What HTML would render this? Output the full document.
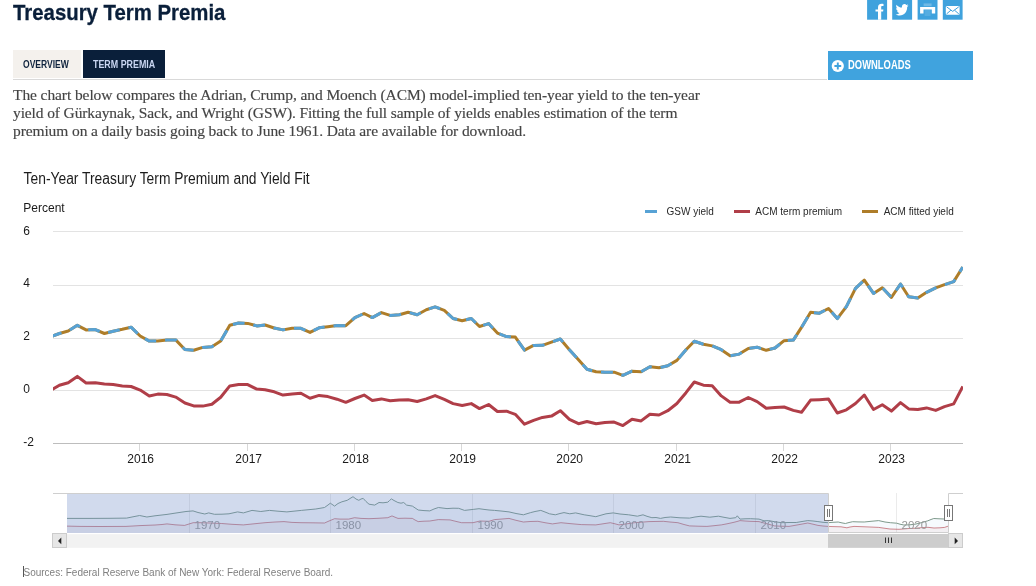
<!DOCTYPE html>
<html lang="en">
<head>
<meta charset="utf-8">
<title>Treasury Term Premia</title>
<style>
html,body{margin:0;padding:0;background:#fff;}
body{width:1036px;height:586px;position:relative;overflow:hidden;font-family:"Liberation Sans",sans-serif;color:#333;}
.abs{position:absolute;white-space:nowrap;}
.cond{transform-origin:0 50%;}
h1{position:absolute;left:13px;top:-.8px;-webkit-text-stroke:.3px #0a1f3a;margin:0;font:bold 22.5px/28px "Liberation Sans",sans-serif;color:#0a1f3a;white-space:nowrap;transform:scaleX(.905);transform-origin:0 50%;}
.tab{position:absolute;top:50px;height:28px;}
.tab span{position:absolute;top:0;line-height:28px;font:bold 11px/28px "Liberation Sans",sans-serif;white-space:nowrap;transform:scaleX(.8);transform-origin:0 50%;}
#t1{left:13px;width:68px;background:#f4f1ed;}
#t1 span{left:9.6px;color:#10243e;transform:scaleX(.775);}
#t2{left:83px;width:82px;background:#0a1f3a;}
#t2 span{left:10.2px;color:#c9d6f2;transform:scaleX(.808);}
#rule{position:absolute;left:13px;top:79px;width:814px;height:1px;background:#d9d9d9;}
#dl{position:absolute;left:828px;top:51px;width:145px;height:29px;background:#40a3de;}
#dl span{position:absolute;left:19.5px;top:.3px;font:bold 12px/29px "Liberation Sans",sans-serif;color:#fff;white-space:nowrap;transform:scaleX(.785);transform-origin:0 50%;}
.soc{position:absolute;top:-2px;width:20px;height:22px;background:#3fa2dd;}
p.intro{position:absolute;left:13px;top:86px;margin:0;font:15.5px/18px "Liberation Serif",serif;color:#444;white-space:nowrap;-webkit-text-stroke:.15px #444;}
p.intro span{display:block;height:18px;}
#l1{letter-spacing:-.088px}#l2{letter-spacing:-.122px}#l3{letter-spacing:-.106px}
#src{position:absolute;left:23.5px;top:566.7px;font:10px/12px "Liberation Sans",sans-serif;color:#808080;white-space:nowrap;}
#caret{position:absolute;left:23px;top:565.5px;width:1px;height:11.5px;background:#555;}
svg{position:absolute;left:0;top:0;}
svg text{font-family:"Liberation Sans",sans-serif;}
</style>
</head>
<body>
<h1>Treasury Term Premia</h1>
<svg id="social" width="1036" height="24" viewBox="0 0 1036 24">
<g fill="#3fa2dd">
<rect x="867.1" y="-1" width="20" height="20.7"/>
<rect x="892.2" y="-1" width="19.9" height="20.7"/>
<rect x="917.6" y="-1" width="19.9" height="20.7"/>
<rect x="942.8" y="-1" width="19.8" height="20.7"/>
</g>
<!-- facebook -->
<path d="M878 19.7 V11.6 H875.5 V9.4 H878 V7.4 C878 5 879.4 3.8 881.6 3.8 C882.4 3.8 883.1 3.9 883.5 3.95 V6.1 H882.3 C881.4 6.1 881.2 6.6 881.2 7.3 V9.4 H883.4 L883.1 11.6 H881.2 V19.7 Z" fill="#fff"/>
<!-- twitter -->
<path transform="translate(902 9.9) scale(1.04 1.12) translate(-902 -10.3)" d="M908.2 6.3 c-0.45 0.2 -0.95 0.35 -1.45 0.4 c0.5 -0.3 0.9 -0.8 1.1 -1.4 c-0.5 0.3 -1.05 0.5 -1.6 0.6 c-0.45 -0.5 -1.1 -0.8 -1.85 -0.8 c-1.4 0 -2.5 1.15 -2.5 2.55 c0 0.2 0 0.4 0.05 0.6 c-2.1 -0.1 -3.95 -1.1 -5.2 -2.65 c-0.2 0.4 -0.35 0.8 -0.35 1.3 c0 0.9 0.45 1.65 1.15 2.1 c-0.4 0 -0.8 -0.1 -1.15 -0.3 v0.05 c0 1.25 0.85 2.25 2.05 2.5 c-0.2 0.05 -0.45 0.1 -0.65 0.1 c-0.15 0 -0.3 0 -0.5 -0.05 c0.3 1 1.25 1.75 2.35 1.75 c-0.85 0.7 -1.95 1.1 -3.15 1.1 c-0.2 0 -0.4 0 -0.6 -0.05 c1.1 0.7 2.45 1.15 3.85 1.15 c4.65 0 7.2 -3.85 7.2 -7.2 v-0.3 c0.5 -0.4 0.9 -0.85 1.25 -1.4 z" fill="#fff"/>
<!-- print -->
<path d="M920.1 6.9 H935.2 V13.6 H931.8 V9.4 H923.5 V13.6 H920.1 Z" fill="#fff"/>
<path d="M923.6 3.4 H931.6 V6.2 H923.6 Z" fill="#fff" fill-opacity=".25"/>
<path d="M924.6 11 H930.6 M924.6 13 H930.6 M924.6 15 H930.6" stroke="#fff" stroke-opacity=".3" stroke-width="0.8" fill="none"/>
<!-- email -->
<rect x="945.8" y="5.9" width="13.8" height="8.8" rx="1" fill="#fff"/>
<path d="M946.6 6.8 L952.7 11.4 L958.8 6.8 M946.6 13.9 L950.9 10.2 M958.8 13.9 L954.5 10.2" stroke="#3fa2dd" stroke-width="1" fill="none"/>
</svg>
<div class="tab" id="t1"><span>OVERVIEW</span></div>
<div class="tab" id="t2"><span>TERM PREMIA</span></div>
<div id="rule"></div>
<div id="dl"><svg width="145" height="28" viewBox="0 0 145 28"><circle cx="9.8" cy="15" r="6.1" fill="#fff"/><path d="M9.8 11.6 V18.4 M6.4 15 H13.2" stroke="#40a3de" stroke-width="1.9" fill="none"/></svg><span>DOWNLOADS</span></div>
<p class="intro"><span id="l1">The chart below compares the Adrian, Crump, and Moench (ACM) model-implied ten-year yield to the ten-year</span><span id="l2">yield of Gürkaynak, Sack, and Wright (GSW). Fitting the full sample of yields enables estimation of the term</span><span id="l3">premium on a daily basis going back to June 1961. Data are available for download.</span></p>
<svg width="1036" height="586" viewBox="0 0 1036 586">
<path d="M53 231.5 H963" stroke="#e3e3e3" stroke-width="1" fill="none"/>
<path d="M53 285.5 H963" stroke="#e3e3e3" stroke-width="1" fill="none"/>
<path d="M53 338.5 H963" stroke="#e3e3e3" stroke-width="1" fill="none"/>
<path d="M53 390.5 H963" stroke="#e3e3e3" stroke-width="1" fill="none"/>
<path d="M53 443.5 H963" stroke="#bdbdbd" stroke-width="1" fill="none"/>
<path d="M139.5 444 V451" stroke="#d8d8d8" stroke-width="1" fill="none"/>
<path d="M247.5 444 V451" stroke="#d8d8d8" stroke-width="1" fill="none"/>
<path d="M354.5 444 V451" stroke="#d8d8d8" stroke-width="1" fill="none"/>
<path d="M461.5 444 V451" stroke="#d8d8d8" stroke-width="1" fill="none"/>
<path d="M568.5 444 V451" stroke="#d8d8d8" stroke-width="1" fill="none"/>
<path d="M676.5 444 V451" stroke="#d8d8d8" stroke-width="1" fill="none"/>
<path d="M783.5 444 V451" stroke="#d8d8d8" stroke-width="1" fill="none"/>
<path d="M890.5 444 V451" stroke="#d8d8d8" stroke-width="1" fill="none"/>
<text x="23.3" y="234.7" font-size="12" fill="#1a1a1a">6</text>
<text x="23.3" y="287.4" font-size="12" fill="#1a1a1a">4</text>
<text x="23.3" y="340.1" font-size="12" fill="#1a1a1a">2</text>
<text x="23.3" y="392.8" font-size="12" fill="#1a1a1a">0</text>
<text x="23.3" y="445.5" font-size="12" fill="#1a1a1a">-2</text>
<text x="140.7" y="463" font-size="12" fill="#1a1a1a" text-anchor="middle">2016</text>
<text x="248.7" y="463" font-size="12" fill="#1a1a1a" text-anchor="middle">2017</text>
<text x="355.7" y="463" font-size="12" fill="#1a1a1a" text-anchor="middle">2018</text>
<text x="462.7" y="463" font-size="12" fill="#1a1a1a" text-anchor="middle">2019</text>
<text x="569.7" y="463" font-size="12" fill="#1a1a1a" text-anchor="middle">2020</text>
<text x="677.7" y="463" font-size="12" fill="#1a1a1a" text-anchor="middle">2021</text>
<text x="784.7" y="463" font-size="12" fill="#1a1a1a" text-anchor="middle">2022</text>
<text x="891.7" y="463" font-size="12" fill="#1a1a1a" text-anchor="middle">2023</text>
<text x="23.6" y="184.2" font-size="16" fill="#1c1c1c" textLength="286"lengthAdjust="spacingAndGlyphs">Ten-Year Treasury Term Premium and Yield Fit</text>
<text x="23.3" y="212" font-size="12" fill="#1a1a1a">Percent</text>
<path d="M645 211.5 H657" stroke="#57a2d5" stroke-width="3" fill="none"/>
<text x="666.5" y="215" font-size="10" fill="#2a2a2a">GSW yield</text>
<path d="M734 211.5 H750" stroke="#b03e48" stroke-width="3" fill="none"/>
<text x="755.3" y="215" font-size="10" fill="#2a2a2a">ACM term premium</text>
<path d="M862 211.5 H878" stroke="#ae7d29" stroke-width="3" fill="none"/>
<text x="883.7" y="215" font-size="10" fill="#2a2a2a">ACM fitted yield</text>
<clipPath id="pc"><rect x="53" y="220" width="910" height="235"/></clipPath>
<g fill="none" stroke-width="3" stroke-linejoin="round" stroke-linecap="butt" clip-path="url(#pc)">
<path d="M50.3 390.7 L59.4 385.3 L68.2 382.7 L77.3 376.4 L86.1 383.0 L95.3 382.7 L104.4 384.0 L113.2 384.6 L122.3 385.9 L131.1 386.5 L140.2 390.1 L149.3 396.0 L157.8 394.1 L166.9 394.5 L175.7 397.1 L184.9 403.0 L193.7 405.9 L202.8 406.1 L211.9 404.2 L220.7 397.3 L229.8 385.9 L238.6 384.6 L247.7 384.6 L256.8 389.1 L265.1 389.7 L274.2 391.8 L283.0 395.1 L292.1 394.1 L300.9 393.2 L310.0 398.3 L319.1 395.4 L327.9 396.6 L337.0 399.2 L345.8 402.3 L354.9 398.5 L364.1 395.1 L372.3 400.4 L381.4 398.9 L390.2 400.8 L399.3 400.0 L408.1 399.8 L417.2 401.5 L426.3 398.9 L435.1 395.6 L444.3 399.4 L453.1 403.6 L462.2 405.5 L471.3 403.6 L479.5 408.6 L488.6 404.5 L497.4 411.5 L506.5 411.2 L515.3 414.3 L524.5 424.2 L533.6 420.4 L542.4 417.4 L551.5 416.1 L560.3 410.7 L569.4 419.3 L578.5 423.7 L587.0 421.5 L596.1 423.7 L604.9 422.4 L614.1 422.1 L622.9 425.6 L632.0 419.3 L641.1 420.9 L649.9 414.2 L659.0 415.0 L667.8 410.7 L676.9 403.5 L686.0 392.7 L694.3 382.0 L703.4 385.2 L712.2 385.8 L721.3 395.9 L730.1 402.2 L739.2 402.2 L748.3 397.5 L757.1 401.6 L766.2 408.2 L775.0 407.4 L784.1 407.0 L793.3 410.4 L801.5 412.3 L810.6 400.1 L819.4 399.7 L828.5 399.1 L837.3 413.0 L846.4 409.8 L855.5 403.5 L864.3 395.0 L873.5 409.5 L882.3 404.8 L891.4 411.1 L900.5 402.6 L908.7 408.9 L917.8 409.5 L926.6 407.9 L935.7 410.4 L944.5 406.6 L953.7 403.9 L962.8 386.4" stroke="#b03e48"/>
<path d="M50.3 336.9 L59.4 333.5 L68.2 331.0 L77.3 325.3 L86.1 329.9 L95.3 329.6 L104.4 333.5 L113.2 331.2 L122.3 329.3 L131.1 327.2 L140.2 336.0 L149.3 341.1 L157.8 341.1 L166.9 339.9 L175.7 339.9 L184.9 349.5 L193.7 350.3 L202.8 347.4 L211.9 346.7 L220.7 341.1 L229.8 325.3 L238.6 323.0 L247.7 323.4 L256.8 325.9 L265.1 325.0 L274.2 328.0 L283.0 329.9 L292.1 328.2 L300.9 328.3 L310.0 332.4 L319.1 327.8 L327.9 326.7 L337.0 325.5 L345.8 325.7 L354.9 317.6 L364.1 313.5 L372.3 317.6 L381.4 312.6 L390.2 315.4 L399.3 314.7 L408.1 312.2 L417.2 314.7 L426.3 309.7 L435.1 306.9 L444.3 310.3 L453.1 318.5 L462.2 320.7 L471.3 318.5 L479.5 326.5 L488.6 323.6 L497.4 333.1 L506.5 336.6 L515.3 337.1 L524.5 350.1 L533.6 345.4 L542.4 345.3 L551.5 342.1 L560.3 339.0 L569.4 349.7 L578.5 359.8 L587.0 369.3 L596.1 371.8 L604.9 372.2 L614.1 372.2 L622.9 375.3 L632.0 371.2 L641.1 371.8 L649.9 366.7 L659.0 367.8 L667.8 365.7 L676.9 360.4 L686.0 349.7 L694.3 341.3 L703.4 344.2 L712.2 345.9 L721.3 349.7 L730.1 355.8 L739.2 354.1 L748.3 348.4 L757.1 347.2 L766.2 350.3 L775.0 348.0 L784.1 340.7 L793.3 340.1 L801.5 327.4 L810.6 312.3 L819.4 313.2 L828.5 308.5 L837.3 318.6 L846.4 306.6 L855.5 288.3 L864.3 280.1 L873.5 293.4 L882.3 287.7 L891.4 297.4 L900.5 284.0 L908.7 296.7 L917.8 298.0 L926.6 292.3 L935.7 287.9 L944.5 284.7 L953.7 281.6 L962.8 267.1" stroke="#ae7d29"/>
<path d="M50.3 336.9 L59.4 333.5 L68.2 331.0 L77.3 325.3 L86.1 329.9 L95.3 329.6 L104.4 333.5 L113.2 331.2 L122.3 329.3 L131.1 327.2 L140.2 336.0 L149.3 341.1 L157.8 341.1 L166.9 339.9 L175.7 339.9 L184.9 349.5 L193.7 350.3 L202.8 347.4 L211.9 346.7 L220.7 341.1 L229.8 325.3 L238.6 323.0 L247.7 323.4 L256.8 325.9 L265.1 325.0 L274.2 328.0 L283.0 329.9 L292.1 328.2 L300.9 328.3 L310.0 332.4 L319.1 327.8 L327.9 326.7 L337.0 325.5 L345.8 325.7 L354.9 317.6 L364.1 313.5 L372.3 317.6 L381.4 312.6 L390.2 315.4 L399.3 314.7 L408.1 312.2 L417.2 314.7 L426.3 309.7 L435.1 306.9 L444.3 310.3 L453.1 318.5 L462.2 320.7 L471.3 318.5 L479.5 326.5 L488.6 323.6 L497.4 333.1 L506.5 336.6 L515.3 337.1 L524.5 350.1 L533.6 345.4 L542.4 345.3 L551.5 342.1 L560.3 339.0 L569.4 349.7 L578.5 359.8 L587.0 369.3 L596.1 371.8 L604.9 372.2 L614.1 372.2 L622.9 375.3 L632.0 371.2 L641.1 371.8 L649.9 366.7 L659.0 367.8 L667.8 365.7 L676.9 360.4 L686.0 349.7 L694.3 341.3 L703.4 344.2 L712.2 345.9 L721.3 349.7 L730.1 355.8 L739.2 354.1 L748.3 348.4 L757.1 347.2 L766.2 350.3 L775.0 348.0 L784.1 340.7 L793.3 340.1 L801.5 327.4 L810.6 312.3 L819.4 313.2 L828.5 308.5 L837.3 318.6 L846.4 306.6 L855.5 288.3 L864.3 280.1 L873.5 293.4 L882.3 287.7 L891.4 297.4 L900.5 284.0 L908.7 296.7 L917.8 298.0 L926.6 292.3 L935.7 287.9 L944.5 284.7 L953.7 281.6 L962.8 267.1" stroke="#57a2d5" stroke-dasharray="11.9 8.93"/>
</g>
<path d="M189.5 493 V533" stroke="#ebebeb" stroke-width="1" fill="none"/>
<path d="M330.5 493 V533" stroke="#ebebeb" stroke-width="1" fill="none"/>
<path d="M472.5 493 V533" stroke="#ebebeb" stroke-width="1" fill="none"/>
<path d="M613.5 493 V533" stroke="#ebebeb" stroke-width="1" fill="none"/>
<path d="M755.5 493 V533" stroke="#ebebeb" stroke-width="1" fill="none"/>
<path d="M896.5 493 V533" stroke="#ebebeb" stroke-width="1" fill="none"/>
<path d="M67.0 518.4 L90.0 518.4 L110.0 518.3 L126.6 518.1 L133.0 516.8 L139.6 515.5 L146.9 517.0 L155.0 515.8 L167.0 514.4 L176.0 513.0 L186.0 511.5 L193.0 510.9 L198.0 512.5 L204.8 514.0 L208.7 512.9 L214.5 514.3 L222.0 514.2 L229.0 513.8 L237.6 511.9 L243.4 512.9 L252.0 510.4 L260.8 511.5 L269.5 510.4 L278.0 511.2 L286.9 511.9 L301.3 510.4 L315.8 509.0 L324.5 507.5 L328.0 505.0 L330.3 503.2 L334.6 506.1 L338.0 503.5 L341.9 501.8 L347.2 500.3 L350.0 498.5 L353.0 496.7 L356.0 499.0 L358.8 500.3 L361.0 499.0 L363.2 498.4 L366.0 501.5 L369.0 504.2 L374.7 505.1 L379.0 502.5 L383.0 502.8 L387.8 502.2 L389.5 500.5 L391.4 498.9 L394.0 500.5 L397.9 502.5 L401.0 503.2 L403.7 502.5 L406.6 505.1 L412.4 506.1 L418.2 510.0 L424.0 510.6 L429.8 510.9 L434.0 509.0 L438.4 507.5 L447.0 508.6 L453.0 508.2 L458.7 508.3 L464.5 510.4 L473.2 509.4 L479.0 508.7 L484.0 509.4 L489.0 510.0 L494.5 510.4 L501.0 511.0 L509.0 511.9 L516.0 513.5 L523.4 514.8 L530.7 512.6 L535.0 511.5 L540.8 510.4 L545.0 512.0 L549.5 513.8 L555.3 514.8 L560.0 513.5 L564.0 512.6 L569.8 513.8 L575.6 512.9 L584.2 514.8 L590.0 515.7 L595.8 516.7 L601.0 515.2 L606.0 513.8 L613.2 512.9 L620.0 514.0 L628.7 514.8 L637.4 516.2 L643.0 514.8 L647.0 516.3 L651.9 517.7 L656.0 517.5 L660.5 518.4 L665.0 517.5 L670.7 517.0 L680.0 517.8 L689.5 518.1 L695.0 517.0 L701.0 516.2 L709.8 517.2 L718.4 516.2 L724.0 517.3 L730.0 518.4 L735.8 517.7 L737.3 515.8 L740.0 519.1 L745.0 518.8 L750.3 518.7 L759.0 519.1 L764.0 520.8 L768.7 520.6 L775.0 521.8 L781.7 522.7 L789.0 522.5 L796.2 522.5 L802.0 521.5 L807.8 520.6 L813.0 521.0 L817.9 521.6 L823.0 522.3 L828.0 522.7 L833.0 522.3 L838.2 522.0 L842.0 522.9 L845.4 523.5 L849.0 522.5 L852.7 521.7 L858.0 521.9 L864.2 522.0 L871.0 521.3 L878.7 520.6 L885.0 522.0 L890.3 522.7 L896.7 523.2 L900.0 524.2 L903.9 525.0 L910.0 524.8 L916.0 524.0 L922.0 522.5 L927.8 520.8 L931.0 519.5 L933.8 518.5 L939.0 518.8 L944.5 519.0 L948.0 518.0 L948.0 533.0 L67.0 533.0 Z" fill="#61aee1" fill-opacity="0.06" stroke="none"/>
<path d="M67.0 526.1 L80.0 526.4 L100.0 526.5 L126.0 526.4 L140.0 525.6 L155.0 525.0 L162.0 524.5 L167.0 523.9 L175.0 524.8 L184.5 525.4 L189.0 524.0 L193.2 522.7 L200.0 522.7 L210.0 523.0 L221.7 523.5 L232.0 524.3 L243.4 524.9 L254.0 523.8 L265.0 522.7 L275.0 522.0 L284.0 521.6 L292.0 522.4 L301.0 522.7 L312.0 522.8 L324.5 523.0 L329.0 521.0 L334.6 518.7 L340.0 519.1 L348.7 519.1 L354.5 517.7 L361.0 518.4 L369.0 518.7 L378.0 518.3 L387.8 517.7 L392.0 515.9 L395.0 517.2 L398.0 518.4 L405.0 518.2 L412.4 518.4 L415.0 520.0 L418.2 521.6 L424.0 521.2 L429.8 521.0 L438.4 519.6 L450.0 519.9 L456.0 521.4 L461.6 522.7 L473.0 522.7 L480.0 521.0 L489.0 521.3 L494.5 519.6 L502.0 519.0 L509.0 518.4 L516.0 520.3 L523.4 522.0 L530.0 521.5 L537.9 521.3 L545.0 522.7 L552.4 523.9 L561.0 522.7 L570.0 523.6 L581.3 524.6 L595.8 524.9 L603.0 523.8 L610.3 522.7 L615.0 523.8 L619.0 524.9 L627.0 523.8 L634.5 522.7 L649.0 521.6 L663.4 521.3 L670.0 522.0 L677.9 522.7 L684.0 524.5 L689.5 525.9 L698.0 526.2 L706.9 526.4 L714.0 525.7 L721.3 524.9 L727.0 523.8 L733.0 522.5 L737.0 521.5 L740.0 520.6 L745.0 521.0 L750.0 521.3 L759.0 521.6 L764.0 523.0 L768.0 524.0 L774.5 525.9 L781.0 526.2 L789.0 526.4 L798.0 524.8 L807.8 523.0 L813.0 524.2 L818.0 525.4 L823.0 526.0 L828.0 526.4 L833.0 526.6 L841.0 526.8 L846.9 527.8 L850.0 527.0 L854.0 526.4 L862.0 526.7 L870.0 527.0 L878.7 527.4 L885.0 528.3 L890.0 529.0 L899.0 529.3 L909.0 528.5 L916.0 528.2 L922.0 527.6 L928.0 527.3 L934.0 528.0 L940.0 527.8 L944.5 527.4 L948.0 526.2 L948.0 533.0 L67.0 533.0 Z" fill="#b84645" fill-opacity="0.06" stroke="none"/>
<g fill="none" stroke-width="1" stroke-linejoin="round">
<path d="M67.0 526.1 L80.0 526.4 L100.0 526.5 L126.0 526.4 L140.0 525.6 L155.0 525.0 L162.0 524.5 L167.0 523.9 L175.0 524.8 L184.5 525.4 L189.0 524.0 L193.2 522.7 L200.0 522.7 L210.0 523.0 L221.7 523.5 L232.0 524.3 L243.4 524.9 L254.0 523.8 L265.0 522.7 L275.0 522.0 L284.0 521.6 L292.0 522.4 L301.0 522.7 L312.0 522.8 L324.5 523.0 L329.0 521.0 L334.6 518.7 L340.0 519.1 L348.7 519.1 L354.5 517.7 L361.0 518.4 L369.0 518.7 L378.0 518.3 L387.8 517.7 L392.0 515.9 L395.0 517.2 L398.0 518.4 L405.0 518.2 L412.4 518.4 L415.0 520.0 L418.2 521.6 L424.0 521.2 L429.8 521.0 L438.4 519.6 L450.0 519.9 L456.0 521.4 L461.6 522.7 L473.0 522.7 L480.0 521.0 L489.0 521.3 L494.5 519.6 L502.0 519.0 L509.0 518.4 L516.0 520.3 L523.4 522.0 L530.0 521.5 L537.9 521.3 L545.0 522.7 L552.4 523.9 L561.0 522.7 L570.0 523.6 L581.3 524.6 L595.8 524.9 L603.0 523.8 L610.3 522.7 L615.0 523.8 L619.0 524.9 L627.0 523.8 L634.5 522.7 L649.0 521.6 L663.4 521.3 L670.0 522.0 L677.9 522.7 L684.0 524.5 L689.5 525.9 L698.0 526.2 L706.9 526.4 L714.0 525.7 L721.3 524.9 L727.0 523.8 L733.0 522.5 L737.0 521.5 L740.0 520.6 L745.0 521.0 L750.0 521.3 L759.0 521.6 L764.0 523.0 L768.0 524.0 L774.5 525.9 L781.0 526.2 L789.0 526.4 L798.0 524.8 L807.8 523.0 L813.0 524.2 L818.0 525.4 L823.0 526.0 L828.0 526.4 L833.0 526.6 L841.0 526.8 L846.9 527.8 L850.0 527.0 L854.0 526.4 L862.0 526.7 L870.0 527.0 L878.7 527.4 L885.0 528.3 L890.0 529.0 L899.0 529.3 L909.0 528.5 L916.0 528.2 L922.0 527.6 L928.0 527.3 L934.0 528.0 L940.0 527.8 L944.5 527.4 L948.0 526.2" stroke="#b03e48" stroke-opacity=".6"/>
<path d="M67.0 518.4 L90.0 518.4 L110.0 518.3 L126.6 518.1 L133.0 516.8 L139.6 515.5 L146.9 517.0 L155.0 515.8 L167.0 514.4 L176.0 513.0 L186.0 511.5 L193.0 510.9 L198.0 512.5 L204.8 514.0 L208.7 512.9 L214.5 514.3 L222.0 514.2 L229.0 513.8 L237.6 511.9 L243.4 512.9 L252.0 510.4 L260.8 511.5 L269.5 510.4 L278.0 511.2 L286.9 511.9 L301.3 510.4 L315.8 509.0 L324.5 507.5 L328.0 505.0 L330.3 503.2 L334.6 506.1 L338.0 503.5 L341.9 501.8 L347.2 500.3 L350.0 498.5 L353.0 496.7 L356.0 499.0 L358.8 500.3 L361.0 499.0 L363.2 498.4 L366.0 501.5 L369.0 504.2 L374.7 505.1 L379.0 502.5 L383.0 502.8 L387.8 502.2 L389.5 500.5 L391.4 498.9 L394.0 500.5 L397.9 502.5 L401.0 503.2 L403.7 502.5 L406.6 505.1 L412.4 506.1 L418.2 510.0 L424.0 510.6 L429.8 510.9 L434.0 509.0 L438.4 507.5 L447.0 508.6 L453.0 508.2 L458.7 508.3 L464.5 510.4 L473.2 509.4 L479.0 508.7 L484.0 509.4 L489.0 510.0 L494.5 510.4 L501.0 511.0 L509.0 511.9 L516.0 513.5 L523.4 514.8 L530.7 512.6 L535.0 511.5 L540.8 510.4 L545.0 512.0 L549.5 513.8 L555.3 514.8 L560.0 513.5 L564.0 512.6 L569.8 513.8 L575.6 512.9 L584.2 514.8 L590.0 515.7 L595.8 516.7 L601.0 515.2 L606.0 513.8 L613.2 512.9 L620.0 514.0 L628.7 514.8 L637.4 516.2 L643.0 514.8 L647.0 516.3 L651.9 517.7 L656.0 517.5 L660.5 518.4 L665.0 517.5 L670.7 517.0 L680.0 517.8 L689.5 518.1 L695.0 517.0 L701.0 516.2 L709.8 517.2 L718.4 516.2 L724.0 517.3 L730.0 518.4 L735.8 517.7 L737.3 515.8 L740.0 519.1 L745.0 518.8 L750.3 518.7 L759.0 519.1 L764.0 520.8 L768.7 520.6 L775.0 521.8 L781.7 522.7 L789.0 522.5 L796.2 522.5 L802.0 521.5 L807.8 520.6 L813.0 521.0 L817.9 521.6 L823.0 522.3 L828.0 522.7 L833.0 522.3 L838.2 522.0 L842.0 522.9 L845.4 523.5 L849.0 522.5 L852.7 521.7 L858.0 521.9 L864.2 522.0 L871.0 521.3 L878.7 520.6 L885.0 522.0 L890.3 522.7 L896.7 523.2 L900.0 524.2 L903.9 525.0 L910.0 524.8 L916.0 524.0 L922.0 522.5 L927.8 520.8 L931.0 519.5 L933.8 518.5 L939.0 518.8 L944.5 519.0 L948.0 518.0" stroke="#7f9a8c"/>
</g>
<text x="194.5" y="528.6" font-size="11.5" fill="#999">1970</text>
<text x="335.5" y="528.6" font-size="11.5" fill="#999">1980</text>
<text x="477.5" y="528.6" font-size="11.5" fill="#999">1990</text>
<text x="618.5" y="528.6" font-size="11.5" fill="#999">2000</text>
<text x="760.5" y="528.6" font-size="11.5" fill="#999">2010</text>
<text x="901.5" y="528.6" font-size="11.5" fill="#999">2020</text>
<rect x="67" y="493" width="761" height="40" fill="#6685c2" fill-opacity="0.3"/>
<path d="M53 493.5 H828.5 V532.5 H948.5 V493.5 H963" stroke="#cfcfcf" stroke-width="1" fill="none"/>
<rect x="824.5" y="505.5" width="8" height="15" fill="#fff" stroke="#777" stroke-width="1"/>
<path d="M827.5 509 V517 M829.5 509 V517" stroke="#777" stroke-width="1" fill="none"/>
<rect x="944.5" y="505.5" width="8" height="15" fill="#fff" stroke="#777" stroke-width="1"/>
<path d="M947.5 509 V517 M949.5 509 V517" stroke="#777" stroke-width="1" fill="none"/>
<rect x="53" y="534.2" width="910" height="13.6" fill="#f2f2f2"/>
<rect x="828" y="534" width="120.5" height="13.8" fill="#cdcdcd"/>
<path d="M885.5 537.5 V543 M888.5 537.5 V543 M891.5 537.5 V543" stroke="#333" stroke-width="1" fill="none"/>
<rect x="52.5" y="533.5" width="14" height="14" fill="#e6e6e6" stroke="#cccccc" stroke-width="1"/>
<rect x="948.5" y="533.5" width="14" height="14" fill="#e6e6e6" stroke="#cccccc" stroke-width="1"/>
<path d="M61.3 537.6 V544.2 L58 540.9 Z" fill="#222"/>
<path d="M954.7 537.6 V544.2 L958 540.9 Z" fill="#222"/>
</svg>
<div id="caret"></div>
<div id="src">Sources: Federal Reserve Bank of New York: Federal Reserve Board.</div>
</body>
</html>
